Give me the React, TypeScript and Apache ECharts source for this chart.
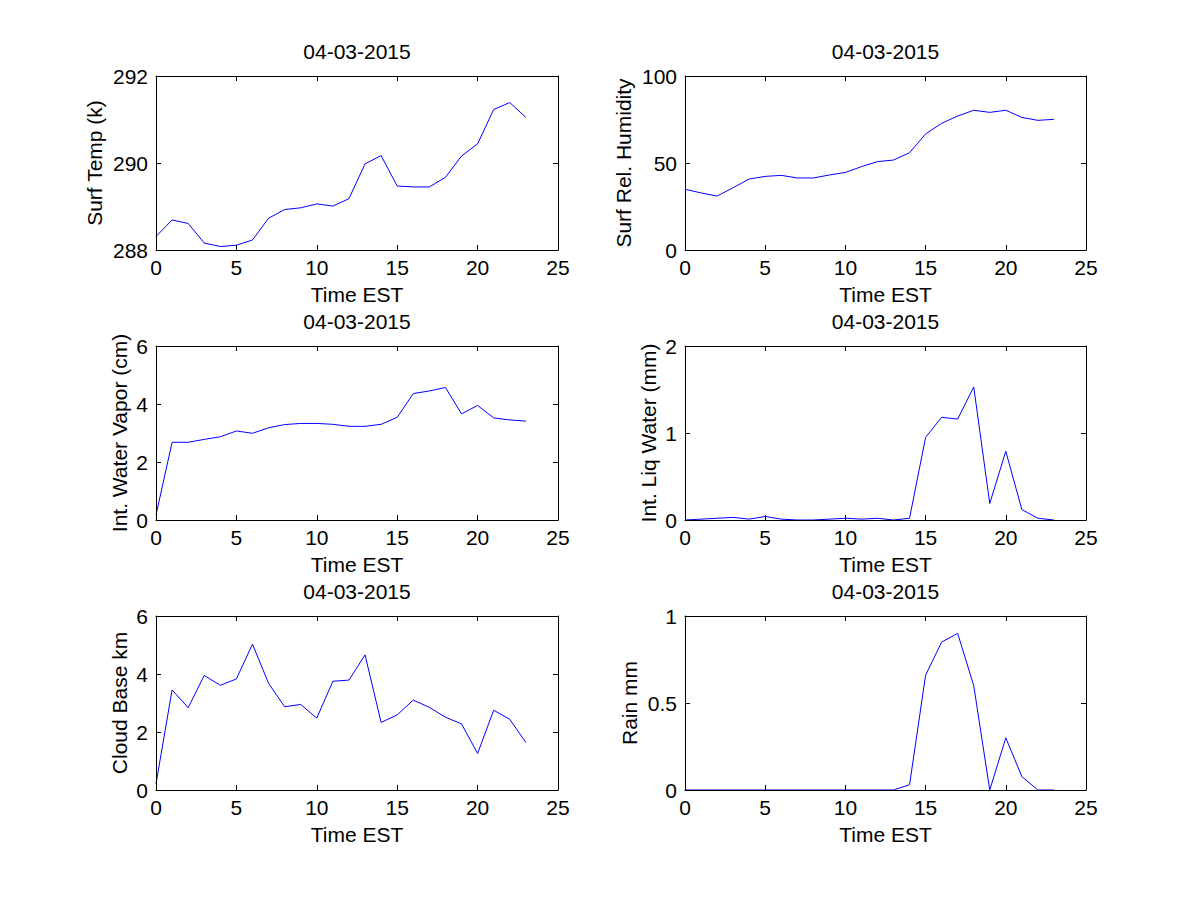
import React, { useEffect, useRef } from "react";
import * as echarts from "echarts";

const hours = [0, 1, 2, 3, 4, 5, 6, 7, 8, 9, 10, 11, 12, 13, 14, 15, 16, 17, 18, 19, 20, 21, 22, 23];
const dateTitle = "04-03-2015";
const xName = "Time EST";

const surfTemp = [288.31, 288.69, 288.61, 288.16, 288.08, 288.11, 288.23, 288.73, 288.93, 288.97, 289.06, 289.01, 289.18, 289.98, 290.17, 289.47, 289.45, 289.45, 289.67, 290.16, 290.44, 291.23, 291.39, 291.05];
const relHumidity = [34.9, 32.8, 31.0, 35.8, 40.8, 42.3, 42.9, 41.4, 41.4, 43.1, 44.6, 47.9, 50.8, 51.7, 55.9, 66.7, 72.8, 77.0, 80.3, 79.1, 80.3, 76.2, 74.5, 75.1];
const waterVapor = [0.17, 2.68, 2.68, 2.78, 2.87, 3.07, 2.99, 3.18, 3.29, 3.33, 3.33, 3.30, 3.23, 3.23, 3.30, 3.54, 4.36, 4.45, 4.57, 3.66, 3.95, 3.52, 3.45, 3.41];
const liqWater = [0.0, 0.01, 0.02, 0.03, 0.01, 0.04, 0.01, 0.0, 0.0, 0.01, 0.02, 0.01, 0.02, 0.0, 0.02, 0.95, 1.18, 1.16, 1.53, 0.19, 0.79, 0.12, 0.02, 0.0];
const cloudBase = [0.21, 3.45, 2.84, 3.95, 3.61, 3.83, 5.03, 3.68, 2.87, 2.95, 2.48, 3.75, 3.79, 4.66, 2.33, 2.59, 3.10, 2.85, 2.51, 2.28, 1.26, 2.75, 2.44, 1.64];
const rain = [0, 0, 0, 0, 0, 0, 0, 0, 0, 0, 0, 0, 0, 0, 0.03, 0.66, 0.85, 0.90, 0.60, 0.0, 0.30, 0.077, 0, 0];

const panels = [
  { yName: "Surf Temp (k)", values: surfTemp, min: 288, max: 292, interval: 2, nameGap: 51 },
  { yName: "Surf Rel. Humidity", values: relHumidity, min: 0, max: 100, interval: 50, nameGap: 51 },
  { yName: "Int. Water Vapor (cm)", values: waterVapor, min: 0, max: 6, interval: 2, nameGap: 26 },
  { yName: "Int. Liq Water (mm)", values: liqWater, min: 0, max: 2, interval: 1, nameGap: 26 },
  { yName: "Cloud Base km", values: cloudBase, min: 0, max: 6, interval: 2, nameGap: 26 },
  { yName: "Rain mm", values: rain, min: 0, max: 1, interval: 0.5, nameGap: 45 },
];

const FONT = "Liberation Sans, Arial, Helvetica, sans-serif";
const FS = 21;

export default function App() {
  const ref = useRef<HTMLDivElement>(null);
  useEffect(() => {
    if (!ref.current) return;
    const chart = echarts.init(ref.current, null, { renderer: "svg" });
    const lefts = [156, 685];
    const widths = [402, 401];
    const tops = [76, 346, 616];
    const height = 174;
    const grids: any[] = [];
    const xAxes: any[] = [];
    const yAxes: any[] = [];
    const series: any[] = [];
    const titles: any[] = [];
    const tick = { show: true, inside: true, length: 5, lineStyle: { color: "#000", width: 1 } };
    const line = { show: true, onZero: false, lineStyle: { color: "#000", width: 1 } };
    panels.forEach((p, i) => {
      const col = i % 2;
      const row = Math.floor(i / 2);
      grids.push({ left: lefts[col], top: tops[row], width: widths[col], height, containLabel: false });
      titles.push({
        text: dateTitle,
        left: lefts[col] + widths[col] / 2,
        top: tops[row] - 35,
        textAlign: "center",
        textStyle: { fontFamily: FONT, fontSize: FS, fontWeight: "normal", color: "#000" },
        padding: 0,
      });
      xAxes.push({
        type: "value", gridIndex: i, position: "bottom", min: 0, max: 25, interval: 5, z: 5,
        axisLine: line, axisTick: tick, splitLine: { show: false },
        axisLabel: { fontFamily: FONT, fontSize: FS, color: "#000", margin: 7 },
        name: xName, nameLocation: "middle", nameGap: 34,
        nameTextStyle: { fontFamily: FONT, fontSize: FS, color: "#000" },
      });
      xAxes.push({
        type: "value", gridIndex: i, position: "top", min: 0, max: 25, interval: 5, z: 5,
        axisLine: line, axisTick: tick, splitLine: { show: false }, axisLabel: { show: false },
      });
      yAxes.push({
        type: "value", gridIndex: i, position: "left", min: p.min, max: p.max, interval: p.interval, z: 5,
        axisLine: line, axisTick: tick, splitLine: { show: false },
        axisLabel: { fontFamily: FONT, fontSize: FS, color: "#000", margin: 8 },
        name: p.yName, nameLocation: "middle", nameGap: p.nameGap, nameRotate: 90,
        nameTextStyle: { fontFamily: FONT, fontSize: FS, color: "#000" },
      });
      yAxes.push({
        type: "value", gridIndex: i, position: "right", min: p.min, max: p.max, interval: p.interval, z: 5,
        axisLine: line, axisTick: tick, splitLine: { show: false }, axisLabel: { show: false },
      });
      series.push({
        type: "line",
        xAxisIndex: i * 2,
        yAxisIndex: i * 2,
        data: hours.map((h, k) => [h, p.values[k]]),
        showSymbol: false,
        symbol: "none",
        lineStyle: { color: "#0000ff", width: 1 },
        z: 1,
      });
    });
    chart.setOption({
      animation: false,
      backgroundColor: "#fff",
      title: titles,
      grid: grids,
      xAxis: xAxes,
      yAxis: yAxes,
      series,
    });
    return () => chart.dispose();
  }, []);
  return (
    <div
      ref={ref}
      style={{ position: "absolute", left: 0, top: 0, width: 1200, height: 900, background: "#fff" }}
    />
  );
}
